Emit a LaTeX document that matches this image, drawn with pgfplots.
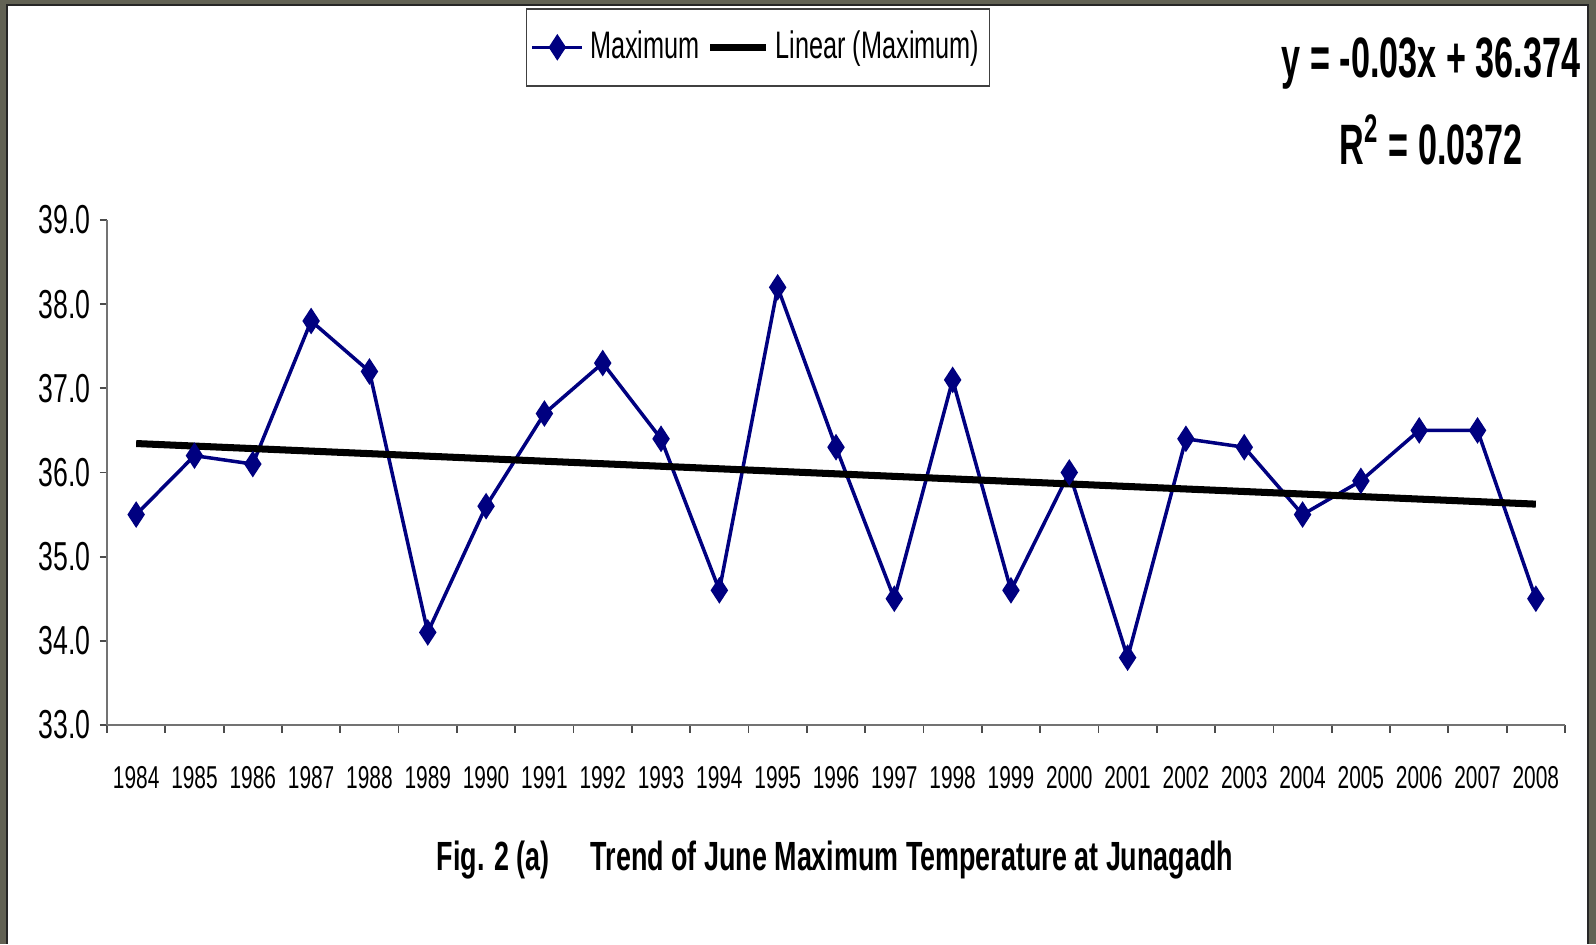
\documentclass[border=0pt]{standalone}
\usepackage{pgfplots}
\pgfplotsset{compat=1.18}
\usepackage{fontspec}
\setmainfont{Liberation Sans}[FakeStretch=0.66]
\newfontfamily\eqfont{Liberation Sans}[FakeStretch=0.6]
\definecolor{navy}{RGB}{0,0,128}
\definecolor{olivebg}{RGB}{98,98,84}
\pgfplotsset{
  maxlegend/.style={legend image code/.code={\draw[mark repeat=2,mark phase=2,##1] plot coordinates {(0cm,0cm) (0.25cm,0cm) (0.5cm,0cm)};}},
  linlegend/.style={legend image code/.code={\draw[##1] (0cm,0cm) -- (0.56cm,0cm);}},
}
\begin{document}
\begin{tikzpicture}[x=1cm,y=1cm]
\fill[olivebg] (0,0) rectangle (15.96,9.44);
\fill[white] (0.07,0) rectangle (15.88,9.39);
\draw[black!85, line width=0.02cm] (0.07,0) -- (0.07,9.39) -- (15.88,9.39) -- (15.88,0);
\begin{axis}[
  at={(1.07cm,2.19cm)}, anchor=south west,
  scale only axis, width=14.58cm, height=5.05cm,
  xmin=-0.5, xmax=24.5, ymin=33, ymax=39,
  axis lines*=left,
  axis line style={black!55, line width=0.6pt},
  clip=false,
  xtick={0,...,24},
  xticklabels={1984,1985,1986,1987,1988,1989,1990,1991,1992,1993,1994,1995,1996,1997,1998,1999,2000,2001,2002,2003,2004,2005,2006,2007,2008},
  major x tick style={draw=none},
  minor xtick={-0.5,0.5,...,24.5},
  minor tick length=0.08cm,
  ytick={33,34,35,36,37,38,39},
  yticklabels={33.0,34.0,35.0,36.0,37.0,38.0,39.0},
  tick align=outside,
  major tick length=0.07cm,
  tick style={black!70, line width=0.5pt},
  xticklabel style={font=\fontsize{9}{10}\selectfont, yshift=-0.22cm},
  yticklabel style={font=\fontsize{11.5}{13}\selectfont, xshift=0.03cm},
  legend columns=2,
  legend style={at={(0.4465,1.42)}, anchor=north, draw=black!75, line width=0.5pt,
    font=\fontsize{10.9}{13}\selectfont, inner ysep=0.15cm, inner xsep=0.04cm,
    nodes={inner xsep=0.06cm},
    /tikz/every even column/.append style={column sep=0.01cm}},
]
\addplot[navy, line width=1pt, mark=diamond*, mark size=2.9pt, mark options={xscale=0.87, solid}, maxlegend] coordinates {
(0,35.5) (1,36.2) (2,36.1) (3,37.8) (4,37.2) (5,34.1) (6,35.6) (7,36.7) (8,37.3) (9,36.4)
(10,34.6) (11,38.2) (12,36.3) (13,34.5) (14,37.1) (15,34.6) (16,36.0) (17,33.8) (18,36.4) (19,36.3)
(20,35.5) (21,35.9) (22,36.5) (23,36.5) (24,34.5)};
\addlegendentry{Maximum}
\addplot[black, line width=2pt, linlegend] coordinates {(0,36.344) (24,35.624)};
\addlegendentry{Linear (Maximum)}
\end{axis}
\node[font=\eqfont\bfseries\fontsize{16.2}{19}\selectfont, anchor=base] at (14.31,8.66) {y = -0.03x + 36.374};
\node[font=\eqfont\bfseries\fontsize{16.2}{19}\selectfont, anchor=base] at (14.31,7.79) {R\textsuperscript{2} = 0.0372};
\node[font=\bfseries\fontsize{11.6}{14}\selectfont, anchor=base west, inner sep=0pt] at (4.36,0.73) {Fig. 2 (a)};
\node[font=\bfseries\fontsize{11.6}{14}\selectfont, anchor=base west, inner sep=0pt] at (5.90,0.73) {Trend of June Maximum Temperature at Junagadh};
\end{tikzpicture}
\end{document}
